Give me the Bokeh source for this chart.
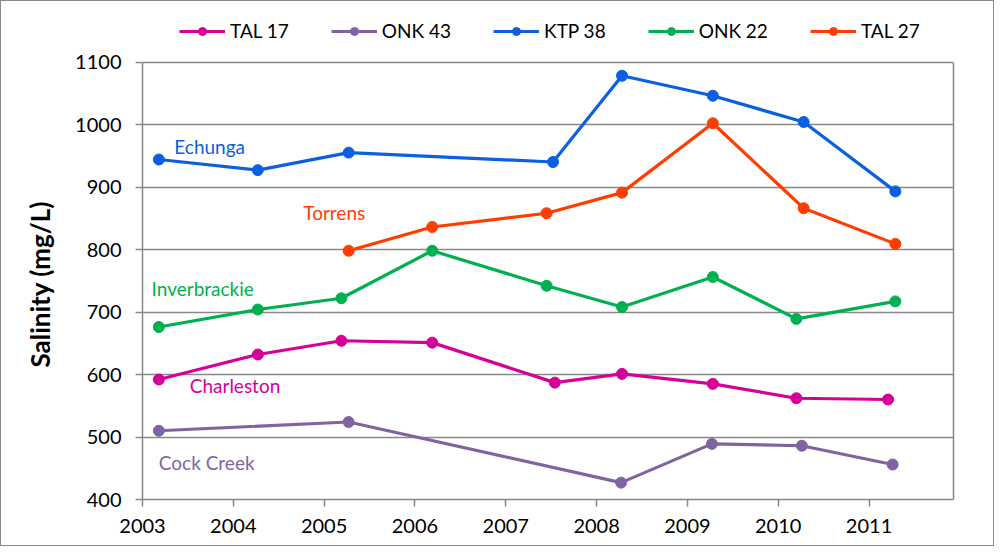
from bokeh.plotting import figure
from bokeh.models import Legend, LegendItem, FixedTicker, Range1d, LinearAxis, Title
from bokeh.core.properties import value
from bokeh.embed import file_html
from bokeh.resources import INLINE

# ---------------- data ----------------
series_names = ["TAL 17", "ONK 43", "KTP 38", "ONK 22", "TAL 27"]
site_names = ["Charleston", "Cock Creek", "Echunga", "Inverbrackie", "Torrens"]

tal17_year = [2003.18, 2004.27, 2005.19, 2006.19, 2007.54, 2008.28, 2009.28, 2010.20, 2011.21]
tal17_sal = [592, 632, 654, 651, 587, 601, 585, 562, 560]

onk43_year = [2003.18, 2005.27, 2008.27, 2009.27, 2010.26, 2011.26]
onk43_sal = [510, 524, 427, 489, 486, 456]

ktp38_year = [2003.18, 2004.27, 2005.27, 2007.52, 2008.28, 2009.28, 2010.28, 2011.29]
ktp38_sal = [944, 927, 955, 940, 1078, 1046, 1004, 893]

onk22_year = [2003.18, 2004.27, 2005.19, 2006.19, 2007.45, 2008.28, 2009.28, 2010.20, 2011.29]
onk22_sal = [676, 704, 722, 798, 742, 708, 756, 689, 717]

tal27_year = [2005.27, 2006.19, 2007.45, 2008.28, 2009.28, 2010.28, 2011.29]
tal27_sal = [798, 836, 858, 891, 1002, 866, 809]

year_ticks = [2003, 2004, 2005, 2006, 2007, 2008, 2009, 2010, 2011]
salinity_ticks = [400, 500, 600, 700, 800, 900, 1000, 1100]

# ---------------- styles ----------------
colors = ["#D5009A", "#8064A2", "#0B60E0", "#00B050", "#FF3D00"]
GRAY = "#898989"
FONT = "Lato"
Y_MIN, Y_MAX = 400, 1100

# frame extends above 1100 to leave room for the legend (top border drawn by 1100 gridline)
p = figure(width=994, height=546, output_backend="svg", toolbar_location=None,
           x_range=Range1d(2003, 2011.93), y_range=Range1d(Y_MIN, 1190.4),
           min_border_left=141, min_border_right=42, min_border_top=4, min_border_bottom=48)
p.styles = {"border": "1.5px solid #8A8A8A"}

p.xgrid.visible = False
p.ygrid.grid_line_color = GRAY
p.ygrid.grid_line_width = 1.5
p.ygrid.ticker = FixedTicker(ticks=salinity_ticks)
p.outline_line_color = None

p.xaxis.ticker = FixedTicker(ticks=year_ticks)
p.yaxis.ticker = FixedTicker(ticks=salinity_ticks)
p.yaxis.bounds = (Y_MIN, Y_MAX)
for ax in (p.xaxis[0], p.yaxis[0]):
    ax.axis_line_color = GRAY
    ax.axis_line_width = 1.5
    ax.major_tick_line_color = GRAY
    ax.major_tick_line_width = 1.5
    ax.major_tick_out = 7
    ax.major_tick_in = 0
    ax.minor_tick_line_color = None
    ax.major_label_text_font = FONT
    ax.major_label_text_font_size = "20px"
    ax.major_label_text_color = "black"
p.xaxis.major_label_standoff = 12
p.yaxis.major_label_standoff = 14

# y-axis title, placed along the 400-1100 part of the frame
ytitle = Title(text="Salinity (mg/L)", align="left", offset=132, standoff=34,
               text_font=FONT, text_font_size="26px", text_font_style="bold",
               text_color="black")
p.add_layout(ytitle, "left")

right_edge = LinearAxis(bounds=(Y_MIN, Y_MAX), ticker=FixedTicker(ticks=[]),
                        axis_line_color=GRAY, axis_line_width=1.5,
                        major_tick_line_color=None, minor_tick_line_color=None,
                        major_label_text_font_size="0px")
p.add_layout(right_edge, "right")

series = [
    (tal17_year, tal17_sal),
    (onk43_year, onk43_sal),
    (ktp38_year, ktp38_sal),
    (onk22_year, onk22_sal),
    (tal27_year, tal27_sal),
]

items = []
for name, (xs, ys), c in zip(series_names, series, colors):
    r1 = p.line(xs, ys, line_color=c, line_width=3.2)
    r2 = p.scatter(xs, ys, size=11, fill_color=c, line_color=c)
    items.append(LegendItem(label=name, renderers=[r1, r2]))

legend = Legend(items=items, orientation="horizontal", location=(37, 457),
                glyph_width=46, glyph_height=20, label_standoff=5, spacing=42,
                padding=0, margin=0, border_line_color=None, background_fill_alpha=0,
                label_text_font=FONT, label_text_font_size="19px", label_text_color="black")
p.add_layout(legend)

# site name annotations (positions of labels in data space)
site_colors = [colors[0], colors[1], colors[2], colors[3], colors[4]]
label_x = [2003.52, 2003.18, 2003.35, 2003.10, 2004.77]
label_y = [583, 460, 965, 737, 860]
p.text(x=label_x, y=label_y, text=site_names, text_color=site_colors,
       text_font=value(FONT), text_font_size="19px",
       text_align="left", text_baseline="middle")

open("out.html", "w").write(file_html(p, INLINE))
